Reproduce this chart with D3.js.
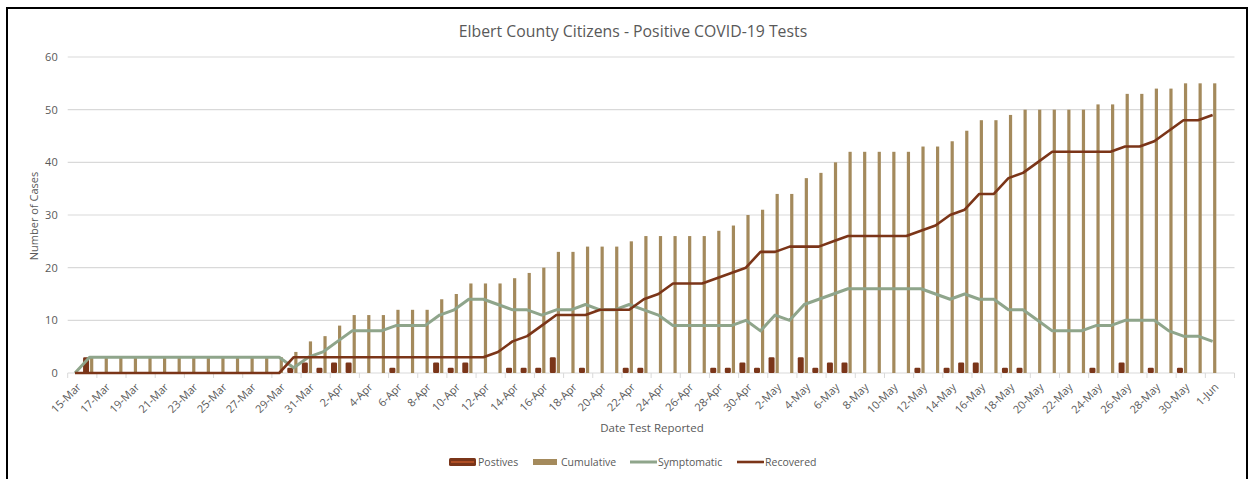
<!DOCTYPE html>
<html>
<head>
<meta charset="utf-8">
<script src="https://cdn.jsdelivr.net/npm/d3@7"></script>
<style>
  body { margin: 0; background: #fff; }
  svg { display: block; font-family: "Open Sans", "Noto Sans", sans-serif; }
</style>
</head>
<body>
<svg id="chart" width="1249" height="479"></svg>
<script>
// Categories (the last slot is empty on the source axis)
var dates = [
  "15-Mar","16-Mar","17-Mar","18-Mar","19-Mar","20-Mar","21-Mar","22-Mar","23-Mar","24-Mar",
  "25-Mar","26-Mar","27-Mar","28-Mar","29-Mar","30-Mar","31-Mar",
  "1-Apr","2-Apr","3-Apr","4-Apr","5-Apr","6-Apr","7-Apr","8-Apr","9-Apr","10-Apr",
  "11-Apr","12-Apr","13-Apr","14-Apr","15-Apr","16-Apr","17-Apr","18-Apr","19-Apr","20-Apr",
  "21-Apr","22-Apr","23-Apr","24-Apr","25-Apr","26-Apr","27-Apr","28-Apr","29-Apr","30-Apr",
  "1-May","2-May","3-May","4-May","5-May","6-May","7-May","8-May","9-May","10-May",
  "11-May","12-May","13-May","14-May","15-May","16-May","17-May","18-May","19-May","20-May",
  "21-May","22-May","23-May","24-May","25-May","26-May","27-May","28-May","29-May","30-May",
  "31-May","1-Jun","2-Jun"
];

var positives = [
  0,3,0,0,0,0,0,0,0,0, 0,0,0,0,0,1,2,
  1,2,2,0,0,1,0,0,2,1, 2,0,0,1,1,1,3,0,1,0, 0,1,1,0,0,0,0,1,1,2,
  1,3,0,3,1,2,2,0,0,0, 0,1,0,1,2,2,0,1,1,0, 0,0,0,1,0,2,0,1,0,1, 0,0
];

var cumulative = [
  0,3,3,3,3,3,3,3,3,3, 3,3,3,3,3,4,6,
  7,9,11,11,11,12,12,12,14,15, 17,17,17,18,19,20,23,23,24,24, 24,25,26,26,26,26,26,27,28,30,
  31,34,34,37,38,40,42,42,42,42, 42,43,43,44,46,48,48,49,50,50, 50,50,50,51,51,53,53,54,54,55, 55,55
];

var symptomatic = [
  0,3,3,3,3,3,3,3,3,3, 3,3,3,3,3,1,3,
  4,6,8,8,8,9,9,9,11,12, 14,14,13,12,12,11,12,12,13,12, 12,13,12,11,9,9,9,9,9,10,
  8,11,10,13,14,15,16,16,16,16, 16,16,15,14,15,14,14,12,12,10, 8,8,8,9,9,10,10,10,8,7, 7,6
];

var recovered = [
  0,0,0,0,0,0,0,0,0,0, 0,0,0,0,0,3,3,
  3,3,3,3,3,3,3,3,3,3, 3,3,4,6,7,9,11,11,11,12, 12,12,14,15,17,17,17,18,19,20,
  23,23,24,24,24,25,26,26,26,26, 26,27,28,30,31,34,34,37,38,40, 42,42,42,42,42,43,43,44,46,48, 48,49
];

var yTicks = [0, 10, 20, 30, 40, 50, 60];

var colorPos = "#7A3519";
var colorCum = "#A48A5C";
var colorSym = "#8FA58B";
var colorRec = "#7B3518";
var colorText = "#595959";
var colorGrid = "#D9D9D9";

var svg = d3.select("#chart");

// Frame around the screenshot
svg.append("rect")
  .attr("x", 7).attr("y", 8)
  .attr("width", 1240).attr("height", 500)
  .attr("fill", "none")
  .attr("stroke", "#000")
  .attr("stroke-width", 2);

var plot = { left: 67.7, right: 1234.5, top: 57, bottom: 373 };

var xScale = d3.scaleBand()
  .domain(dates)
  .range([plot.left, plot.right])
  .padding(0);
var yScale = d3.scaleLinear()
  .domain([0, 60])
  .range([plot.bottom, plot.top]);

function cx(i) {
  return xScale(dates[i]) + xScale.bandwidth() / 2;
}

// Title
svg.append("text")
  .attr("x", 633).attr("y", 37)
  .attr("text-anchor", "middle")
  .attr("fill", colorText)
  .style("font-size", "15.8px")
  .text("Elbert County Citizens - Positive COVID-19 Tests");

// Gridlines
svg.append("g")
  .selectAll("line")
  .data(yTicks.filter(function(d) { return d > 0; }))
  .join("line")
  .attr("x1", plot.left).attr("x2", plot.right)
  .attr("y1", function(d) { return yScale(d); })
  .attr("y2", function(d) { return yScale(d); })
  .attr("stroke", colorGrid)
  .attr("stroke-width", 1.2);

// y axis
var yAxis = svg.append("g")
  .attr("transform", "translate(" + plot.left + ",0)")
  .call(d3.axisLeft(yScale).tickValues(yTicks).tickSize(0).tickPadding(10));
yAxis.select(".domain").remove();
yAxis.selectAll("text")
  .attr("fill", colorText)
  .style("font-size", "11px")
  .style("font-family", "'Open Sans', 'Noto Sans', sans-serif");

svg.append("text")
  .attr("transform", "translate(38,216) rotate(-90)")
  .attr("text-anchor", "middle")
  .attr("fill", colorText)
  .style("font-size", "11px")
  .text("Number of Cases");

// x axis: ticks at every second category boundary
var xAxis = svg.append("g")
  .attr("transform", "translate(0," + plot.bottom + ")");
xAxis.append("line")
  .attr("x1", plot.left).attr("x2", plot.right)
  .attr("stroke", colorGrid)
  .attr("stroke-width", 1.2);
xAxis.selectAll(".tk")
  .data(d3.range(0, dates.length + 1, 2))
  .join("line")
  .attr("class", "tk")
  .attr("x1", function(i) { return plot.left + i * xScale.bandwidth(); })
  .attr("x2", function(i) { return plot.left + i * xScale.bandwidth(); })
  .attr("y1", 0).attr("y2", 5)
  .attr("stroke", colorGrid);
xAxis.selectAll(".lbl")
  .data(d3.range(0, dates.length - 1, 2))
  .join("text")
  .attr("class", "lbl")
  .attr("transform", function(i) {
    return "translate(" + (cx(i) + 4) + ",12) rotate(-45)";
  })
  .attr("text-anchor", "end")
  .attr("dy", "0.35em")
  .attr("fill", colorText)
  .style("font-size", "11px")
  .text(function(i) { return dates[i]; });

svg.append("text")
  .attr("x", 652).attr("y", 432)
  .attr("text-anchor", "middle")
  .attr("fill", colorText)
  .style("font-size", "11.5px")
  .text("Date Test Reported");

// Bars
svg.append("g")
  .selectAll("rect")
  .data(positives.map(function(v, i) { return { i: i, v: v }; }).filter(function(d) { return d.v > 0; }))
  .join("rect")
  .attr("x", function(d) { return cx(d.i) - 6.5; })
  .attr("width", 6)
  .attr("y", function(d) { return yScale(d.v); })
  .attr("height", function(d) { return yScale(0) - yScale(d.v); })
  .attr("rx", 1.2)
  .attr("fill", colorPos);

svg.append("g")
  .selectAll("rect")
  .data(cumulative.map(function(v, i) { return { i: i, v: v }; }).filter(function(d) { return d.v > 0; }))
  .join("rect")
  .attr("x", function(d) { return cx(d.i) + 0.5; })
  .attr("width", 3.2)
  .attr("y", function(d) { return yScale(d.v); })
  .attr("height", function(d) { return yScale(0) - yScale(d.v); })
  .attr("fill", colorCum);

// Lines
var line = d3.line()
  .x(function(d, i) { return cx(i); })
  .y(function(d) { return yScale(d); });

svg.append("path")
  .datum(symptomatic)
  .attr("fill", "none")
  .attr("stroke", colorSym)
  .attr("stroke-width", 3)
  .attr("stroke-linejoin", "round")
  .attr("d", line);

svg.append("path")
  .datum(recovered)
  .attr("fill", "none")
  .attr("stroke", colorRec)
  .attr("stroke-width", 2.6)
  .attr("stroke-linejoin", "round")
  .attr("d", line);

// Legend
var legend = svg.append("g").style("font-size", "10.5px");
legend.append("rect")
  .attr("x", 449).attr("y", 458).attr("width", 27).attr("height", 8)
  .attr("rx", 1.5)
  .attr("fill", colorPos);
legend.append("line")
  .attr("x1", 451).attr("x2", 474).attr("y1", 462).attr("y2", 462)
  .attr("stroke", "#C65A2A").attr("stroke-width", 1.4);
legend.append("text").attr("x", 478).attr("y", 466).attr("fill", colorText).text("Postives");

legend.append("rect")
  .attr("x", 533).attr("y", 459).attr("width", 24).attr("height", 6)
  .attr("fill", colorCum);
legend.append("text").attr("x", 561).attr("y", 466).attr("fill", colorText).text("Cumulative");

legend.append("line")
  .attr("x1", 630).attr("x2", 657).attr("y1", 462).attr("y2", 462)
  .attr("stroke", colorSym).attr("stroke-width", 3);
legend.append("text").attr("x", 658).attr("y", 466).attr("fill", colorText).text("Symptomatic");

legend.append("line")
  .attr("x1", 737).attr("x2", 764).attr("y1", 462).attr("y2", 462)
  .attr("stroke", colorRec).attr("stroke-width", 2.6);
legend.append("text").attr("x", 765).attr("y", 466).attr("fill", colorText).text("Recovered");
</script>
</body>
</html>
